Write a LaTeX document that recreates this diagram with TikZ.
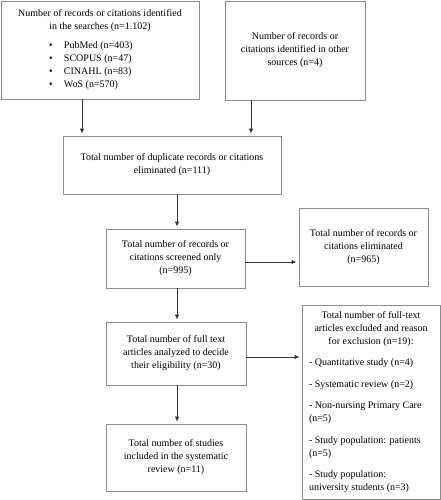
\documentclass[tikz,border=0pt]{standalone}
\usepackage{fontspec}
\setmainfont{Liberation Serif}
\usetikzlibrary{arrows.meta,calc}
\definecolor{boxgray}{HTML}{8C8C8C}
\definecolor{arrgray}{HTML}{333333}
\begin{document}
\begin{tikzpicture}[x=1pt,y=-1pt,
  box/.style={draw=boxgray,line width=0.8pt,rectangle,inner sep=0pt,align=center,
    font=\fontsize{10}{13}\selectfont},
  arr/.style={draw=arrgray,line width=0.9pt,-{Latex[length=5pt,width=4.5pt]},shorten >=2pt}]
\useasboundingbox (0,0) rectangle (441,500);
\node[box,minimum width=198pt,minimum height=98pt] (b1) at (100,50)
 {Number of records or citations identified\\ in the searches (n=1.102)\\[6pt]
  \makebox[102pt][l]{\makebox[15pt][l]{\textbullet}PubMed (n=403)}\\
  \makebox[102pt][l]{\makebox[15pt][l]{\textbullet}SCOPUS (n=47)}\\
  \makebox[102pt][l]{\makebox[15pt][l]{\textbullet}CINAHL (n=83)}\\
  \makebox[102pt][l]{\makebox[15pt][l]{\textbullet}WoS (n=570)}};
\node[box,minimum width=140pt,minimum height=99pt] (b2) at (295,50.5)
 {Number of records or\\ citations identified in other\\ sources (n=4)};
\node[box,minimum width=218pt,minimum height=58pt] (b3) at (172,165)
 {Total number of duplicate records or citations\\ eliminated (n=111)};
\node[box,minimum width=139pt,minimum height=59pt] (b4) at (175.5,258.5)
 {Total number of records or\\ citations screened only\\ (n=995)};
\node[box,minimum width=129pt,minimum height=78pt] (b5) at (363.5,247)
 {Total number of records or\\ citations eliminated\\ (n=965)};
\node[box,minimum width=140pt,minimum height=63pt] (b6) at (176,353.5)
 {Total number of full text\\ articles analyzed to decide\\ their eligibility (n=30)};
\node[box,minimum width=140pt,minimum height=67pt] (b7) at (176,457.5)
 {Total number of studies\\ included in the systematic\\ review (n=11)};
\node[box,minimum width=138pt,minimum height=194pt,align=left] (b8) at (371,402)
 {\makebox[124pt][c]{Total number of full-text}\\
  \makebox[124pt][c]{articles excluded and reason}\\
  \makebox[124pt][c]{for exclusion (n=19):}\\[8.5pt]
  - Quantitative study (n=4)\\[8.5pt]
  - Systematic review (n=2)\\[8.5pt]
  - Non-nursing Primary Care\\ (n=5)\\[8.5pt]
  - Study population: patients\\ (n=5)\\[8.5pt]
  - Study population:\\ university students (n=3)};
\coordinate (c1) at (82,0);
\coordinate (c2) at (251,0);
\coordinate (c3) at (177,0);
\draw[arr] (b1.south -| c1) -- (b3.north -| c1);
\draw[arr] (b2.south -| c2) -- (b3.north -| c2);
\draw[arr] (b3.south -| c3) -- (b4.north -| c3);
\draw[arr] (b4.south -| c3) -- (b6.north -| c3);
\draw[arr] (b6.south -| c3) -- (b7.north -| c3);
\draw[arr] ([yshift=-3.5pt]b4.east) -- ([yshift=-3.5pt]b4.east -| b5.west);
\draw[arr] ([yshift=-3.5pt]b6.east) -- ([yshift=-3.5pt]b6.east -| b8.west);
\end{tikzpicture}
\end{document}
